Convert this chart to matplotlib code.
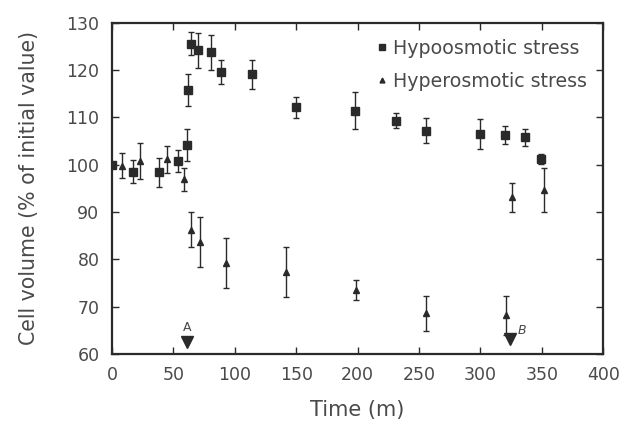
import numpy as np
import matplotlib.pyplot as plt
from matplotlib.lines import Line2D

# Hypoosmotic stress (squares)
hypo_t = [0, 17, 38, 54, 61, 62, 64, 70, 81, 89, 114, 150, 198, 231, 256, 300, 320, 336, 349]
hypo_v = [99.9, 98.5, 98.4, 100.8, 104.1, 115.8, 125.6, 124.2, 123.7, 119.6, 119.1, 112.1,
          111.4, 109.3, 107.2, 106.5, 106.3, 105.8, 101.2]
hypo_e = [0, 2.4, 3.1, 2.4, 3.4, 3.3, 2.4, 3.7, 3.7, 2.5, 3.1, 2.3,
          3.9, 1.6, 2.6, 3.1, 1.9, 1.8, 1.0]

# Hyperosmotic stress (triangles)
hyper_t = [8, 23, 45, 59, 64, 72, 93, 142, 199, 256, 321, 326, 352]
hyper_v = [99.8, 100.8, 101.1, 96.9, 86.2, 83.6, 79.3, 77.3, 73.5, 68.6, 68.2, 93.1, 94.6]
hyper_e = [2.7, 3.8, 2.9, 2.4, 3.7, 5.3, 5.3, 5.2, 2.2, 3.7, 4.1, 3.1, 4.6]

# event arrows
arrow_t = [61, 324]
arrow_lbl = ["A", "B"]

ink = "#2a2a2a"
txt = "#4a4a4a"

fig = plt.figure(figsize=(6.22, 4.28), dpi=100)
ax = fig.add_axes([0.180, 0.173, 0.790, 0.774])

ax.errorbar(hypo_t, hypo_v, yerr=hypo_e, fmt="s", ms=6, color=ink, ecolor=ink,
            elinewidth=1, capsize=2.5, capthick=1)
ax.errorbar(hyper_t, hyper_v, yerr=hyper_e, fmt="^", ms=4, color=ink, ecolor=ink,
            elinewidth=1, capsize=2.5, capthick=1)

# arrows A and B
ax.plot(arrow_t, [62.6, 63.2], "v", ms=8, color=ink, clip_on=False)
ax.text(arrow_t[0], 64.3, arrow_lbl[0], fontsize=9, color=txt, ha="center", va="bottom")
ax.text(arrow_t[1] + 6, 63.6, arrow_lbl[1], fontsize=9, color=txt, ha="left", va="bottom",
        style="italic")

ax.set_xlim(0, 400)
ax.set_ylim(60, 130)
ax.set_xticks(np.arange(0, 401, 50))
ax.set_yticks(np.arange(60, 131, 10))
ax.tick_params(direction="in", top=True, right=True, length=5, width=1,
               labelsize=12.5, labelcolor=txt, color=ink)
ax.tick_params(axis="y", pad=9)
ax.tick_params(axis="x", pad=8.5)
for s in ax.spines.values():
    s.set_linewidth(1.6)
    s.set_color(ink)

ax.set_xlabel("Time (m)", fontsize=15, color=txt, labelpad=12)
ax.set_ylabel("Cell volume (% of initial value)", fontsize=14.8, color=txt, labelpad=20)

handles = [Line2D([], [], ls="none", marker="s", ms=4, color=ink),
           Line2D([], [], ls="none", marker="^", ms=3.5, color=ink)]
leg = ax.legend(handles, ["Hypoosmotic stress", "Hyperosmotic stress"], loc="upper right",
                frameon=False, fontsize=13.7, handletextpad=0.25, handlelength=0.7,
                borderaxespad=0.45, labelspacing=0.75)
for t in leg.get_texts():
    t.set_color(txt)

fig.savefig("out.png", dpi=100)
